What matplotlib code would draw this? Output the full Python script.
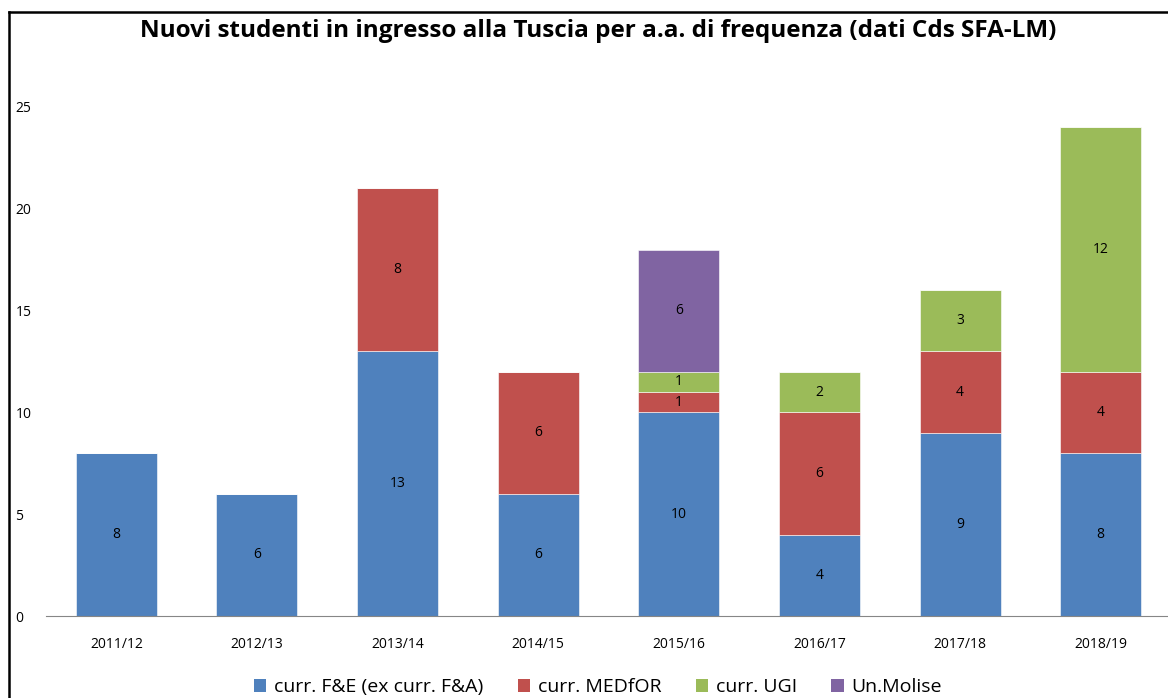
import numpy as np
import matplotlib
matplotlib.use('Agg')
from matplotlib import pyplot as plt
from matplotlib.lines import Line2D
from matplotlib.patches import Patch

# dati
anni = ['2011/12', '2012/13', '2013/14', '2014/15', '2015/16', '2016/17', '2017/18', '2018/19']
fe = [8, 6, 13, 6, 10, 4, 9, 8]
medfor = [0, 0, 8, 6, 1, 6, 4, 4]
ugi = [0, 0, 0, 0, 1, 2, 3, 12]
molise = [0, 0, 0, 0, 6, 0, 0, 0]
serie_nomi = ['curr. F&E (ex curr. F&A)', 'curr. MEDfOR', 'curr. UGI', 'Un.Molise']
colori = ['#4F81BD', '#C0504D', '#9BBB59', '#8064A2']

plt.rcParams['font.family'] = ['Open Sans', 'DejaVu Sans']

W, H = 1168, 698
fig = plt.figure(figsize=(W / 100, H / 100), dpi=100)
# assi in pixel: x 46..1171, y 107..616
ax = fig.add_axes([46 / W, 1 - 616 / H, 1125 / W, (616 - 107) / H])

x = np.arange(len(anni))
bottom = np.zeros(len(anni))
for vals, nome, col in zip([fe, medfor, ugi, molise], serie_nomi, colori):
    vals = np.array(vals, dtype=float)
    ax.bar(x, vals, 0.576, bottom=bottom, color=col, label=nome,
           edgecolor='white', linewidth=0.4)
    for xi, v, b in zip(x, vals, bottom):
        if v > 0:
            ax.text(xi, b + v / 2, f'{int(v)}', ha='center', va='center',
                    fontsize=10, color='black')
    bottom += vals

ax.set_xlim(-0.5, len(anni) - 0.5)
ax.set_ylim(0, 25)
ax.set_yticks([0, 5, 10, 15, 20, 25])
ax.set_xticks(x)
ax.set_xticklabels(anni, fontsize=10)
ax.tick_params(axis='x', length=0, pad=15)
ax.tick_params(axis='y', length=0, labelsize=10, pad=22)
for lab in ax.get_yticklabels():
    lab.set_horizontalalignment('left')
for s in ['top', 'right', 'left']:
    ax.spines[s].set_visible(False)
ax.spines['bottom'].set_color('#868686')
ax.set_facecolor('none')

fig.text(598 / W, 1 - 31 / H, 'Nuovi studenti in ingresso alla Tuscia per a.a. di frequenza (dati Cds SFA-LM)',
         ha='center', va='center', fontsize=17.5, fontweight='bold')

# bordo del grafico (sinistra e alto)
fig.add_artist(Line2D([9 / W, 9 / W], [0, 1 - 12 / H], color='black', linewidth=1.8))
fig.add_artist(Line2D([9 / W, 1], [1 - 12 / H, 1 - 12 / H], color='black', linewidth=1.8))

handles = [Patch(facecolor=c, label=n) for c, n in zip(colori, serie_nomi)]
fig.legend(handles=handles, loc='center', bbox_to_anchor=(598 / W, 1 - 687 / H), ncol=4,
           frameon=False, fontsize=14, handlelength=0.65, handleheight=0.65,
           handletextpad=0.4, columnspacing=1.75, borderpad=0)

plt.savefig('out.png', dpi=100)
